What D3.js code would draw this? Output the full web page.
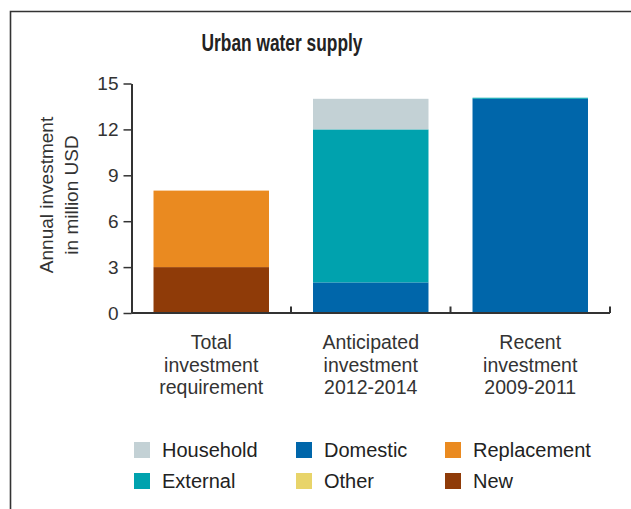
<!DOCTYPE html>
<html><head><meta charset="utf-8">
<script src="https://cdn.jsdelivr.net/npm/d3@7"></script>
<style>html,body{margin:0;padding:0;background:#fff;}svg{display:block;}</style>
</head><body>
<svg id="c" width="631" height="509"></svg>
<script>
const categories = ["Total investment requirement", "Anticipated investment 2012-2014", "Recent investment 2009-2011"];
const categoryLines = [["Total","investment","requirement"],["Anticipated","investment","2012-2014"],["Recent","investment","2009-2011"]];
const newInv = [3, 0, 0];
const replacement = [5, 0, 0];
const domestic = [0, 2, 14];
const external = [0, 10, 0.07];
const other = [0, 0, 0];
const household = [0, 2, 0];
const yTicks = [0, 3, 6, 9, 12, 15];
const seriesNames = ["New","Replacement","Domestic","External","Other","Household"];
const seriesValues = [newInv, replacement, domestic, external, other, household];
const colors = {Household:"#c3d1d5", Domestic:"#0066aa", Replacement:"#ea8a20", External:"#00a2ae", Other:"#e8d46a", New:"#8f3b08"};
const legendOrder = [["Household","Domestic","Replacement"],["External","Other","New"]];

const svg = d3.select("#c");
const font = "'Liberation Sans', Arial, Helvetica, sans-serif";

// frame
svg.append("path").attr("d","M10.5,509 L10.5,11.5 L631,11.5").attr("fill","none").attr("stroke","#333").attr("stroke-width",1.6);

svg.append("text").attr("x",282).attr("y",51).attr("text-anchor","middle")
  .attr("font-family","'Liberation Sans Narrow', 'Arial Narrow', 'Liberation Sans', sans-serif").attr("font-weight","bold")
  .attr("font-size",24).attr("fill","#222")
  .attr("textLength",161).attr("lengthAdjust","spacingAndGlyphs")
  .text("Urban water supply");

const x = d3.scaleBand().domain(categories).range([131.5, 610]).paddingInner(0.276).paddingOuter(0.138);
const y = d3.scaleLinear().domain([0, 15]).range([313, 83.5]);

const table = categories.map((c,i)=>{const o={cat:c}; seriesNames.forEach((s,j)=>o[s]=seriesValues[j][i]); return o;});
const stack = d3.stack().keys(seriesNames)(table);

svg.append("g").selectAll("g").data(stack).join("g").attr("fill",d=>colors[d.key])
  .selectAll("rect").data(d=>d).join("rect")
  .attr("x",d=>x(d.data.cat)).attr("width",x.bandwidth())
  .attr("y",d=>y(d[1])).attr("height",d=>Math.max(0,y(d[0])-y(d[1])));

// y axis
const ya = svg.append("g").attr("transform","translate(131.5,0)")
  .call(d3.axisLeft(y).tickValues(yTicks).tickSize(8).tickPadding(5).tickSizeOuter(0));
ya.select(".domain").attr("stroke","#333").attr("stroke-width",2);
ya.selectAll(".tick line").attr("stroke","#333").attr("stroke-width",1.5);
ya.selectAll(".tick text").attr("font-family",font).attr("font-size",19).attr("fill","#333");

// x axis
const step = x.step();
const xa = svg.append("g");
xa.append("line").attr("x1",131.5).attr("x2",610).attr("y1",313).attr("y2",313).attr("stroke","#333").attr("stroke-width",2);
const bounds = d3.range(1, categories.length+1).map(i=>131.5 + i*step);
xa.selectAll("line.t").data(bounds).join("line").attr("class","t")
  .attr("x1",d=>d).attr("x2",d=>d).attr("y1",313).attr("y2",306.5).attr("stroke","#333").attr("stroke-width",2);

const xl = svg.append("g");
categories.forEach((c,i)=>{
  const cx = x(c) + x.bandwidth()/2;
  categoryLines[i].forEach((ln,k)=>{
    xl.append("text").attr("x",cx).attr("y",349 + k*22.5).attr("text-anchor","middle")
      .attr("font-family",font).attr("font-size",19.5).attr("fill","#333").text(ln);
  });
});

// y label
const yl = svg.append("g").attr("transform","translate(53,195) rotate(-90)");
yl.append("text").attr("x",0).attr("y",0).attr("text-anchor","middle").attr("font-family",font).attr("font-size",19).attr("fill","#333").text("Annual investment");
yl.append("text").attr("x",0).attr("y",25).attr("text-anchor","middle").attr("font-family",font).attr("font-size",19).attr("fill","#333").text("in million USD");

// legend
const colX = [134, 296, 445], rowY = [442, 473];
legendOrder.forEach((row,r)=>row.forEach((name,cI)=>{
  const g = svg.append("g").attr("transform",`translate(${colX[cI]},${rowY[r]})`);
  g.append("rect").attr("width",16).attr("height",16).attr("fill",colors[name]);
  g.append("text").attr("x",28).attr("y",15).attr("font-family",font).attr("font-size",20).attr("fill","#222").text(name);
}));
</script>
</body></html>
